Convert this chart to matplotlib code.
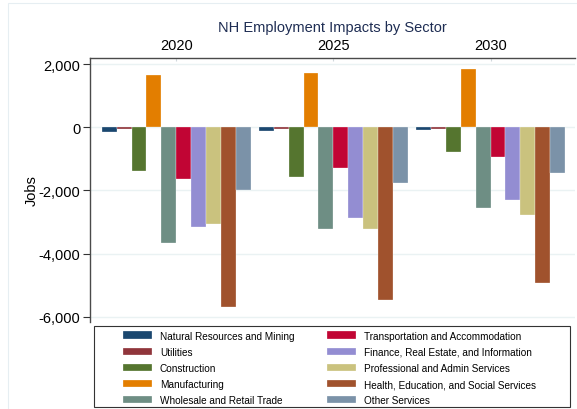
import numpy as np
import matplotlib.pyplot as plt
from matplotlib.patches import Rectangle

plt.rcParams['font.family'] = ['Liberation Sans', 'DejaVu Sans']

# data
years = ['2020', '2025', '2030']
sectors = ['Natural Resources and Mining', 'Utilities', 'Construction',
           'Manufacturing', 'Wholesale and Retail Trade',
           'Transportation and Accommodation',
           'Finance, Real Estate, and Information',
           'Professional and Admin Services',
           'Health, Education, and Social Services', 'Other Services']
jobs_2020 = [-135, -50, -1380, 1670, -3670, -1625, -3170, -3060, -5690, -1990]
jobs_2025 = [-105, -50, -1565, 1725, -3210, -1285, -2870, -3210, -5480, -1765]
jobs_2030 = [-75, -40, -785, 1850, -2550, -935, -2310, -2785, -4935, -1455]
colors = ['#1a476f', '#90353b', '#55752f', '#e37e00', '#6e8e84',
          '#c10534', '#938dd2', '#cac27e', '#a0522d', '#7b92a8']
yticks = [2000, 0, -2000, -4000, -6000]

W, H = 577, 410
fig = plt.figure(figsize=(W / 100, H / 100), dpi=100)

# faint outer graph-region border (Stata style)
fig.patches.append(Rectangle((8 / W, -0.1), 1.2, 1 - 4 / H + 0.1,
                             transform=fig.transFigure, fill=False,
                             edgecolor='#e6eef2', linewidth=0.8))

ax = fig.add_axes([90 / W, 1 - 323 / H, (575 - 90) / W, (323 - 58.5) / H])

data = np.array([jobs_2020, jobs_2025, jobs_2030])
groups = np.arange(len(years))
w = 0.0946
for i, name in enumerate(sectors):
    ax.bar(groups + (i - 4.5) * w, data[:, i], width=w, color=colors[i],
           edgecolor='white', linewidth=0.2, label=name, zorder=3)

ax.set_xlim(-0.548, 2.537)
ax.set_ylim(-6170, 2213)
ax.set_yticks(yticks)
ax.set_yticklabels([f'{v:,}' for v in yticks])
ax.grid(axis='y', color='#eaf2f3', linewidth=1, zorder=0)

ax.xaxis.tick_top()
ax.set_xticks(groups)
ax.set_xticklabels(years)
ax.tick_params(axis='x', direction='in', length=2, color='#d0d8dc',
               labelsize=10.5, pad=4)
ax.tick_params(axis='y', length=5, width=0.8, color='#333333',
               labelsize=10.5, pad=2)

for s in ['right', 'bottom']:
    ax.spines[s].set_visible(False)
for s in ['left', 'top']:
    ax.spines[s].set_color('#4a4a4a')
    ax.spines[s].set_linewidth(1.0)

ax.set_ylabel('Jobs', fontsize=10.5)
ax.yaxis.set_label_coords((39 - 90) / (575 - 90), 0.5)

fig.text((90 + 575) / 2 / W, 1 - 28 / H, 'NH Employment Impacts by Sector',
         ha='center', va='center', fontsize=10.5, color='#1e2d53')

# legend box drawn separately so its size matches the reference
fig.patches.append(Rectangle((94 / W, 1 - 408 / H), (570 - 94) / W, 81 / H,
                             transform=fig.transFigure, fill=False,
                             edgecolor='#333333', linewidth=0.8))
fig.legend(loc='upper left', ncol=2, fontsize=7.2, frameon=False,
           bbox_to_anchor=(123 / W, 1 - 331.5 / H), borderpad=0,
           borderaxespad=0, handlelength=2.9, handleheight=0.72,
           handletextpad=0.8, columnspacing=3.2, labelspacing=0.62)

fig.savefig('out.png', dpi=100, facecolor='white')
